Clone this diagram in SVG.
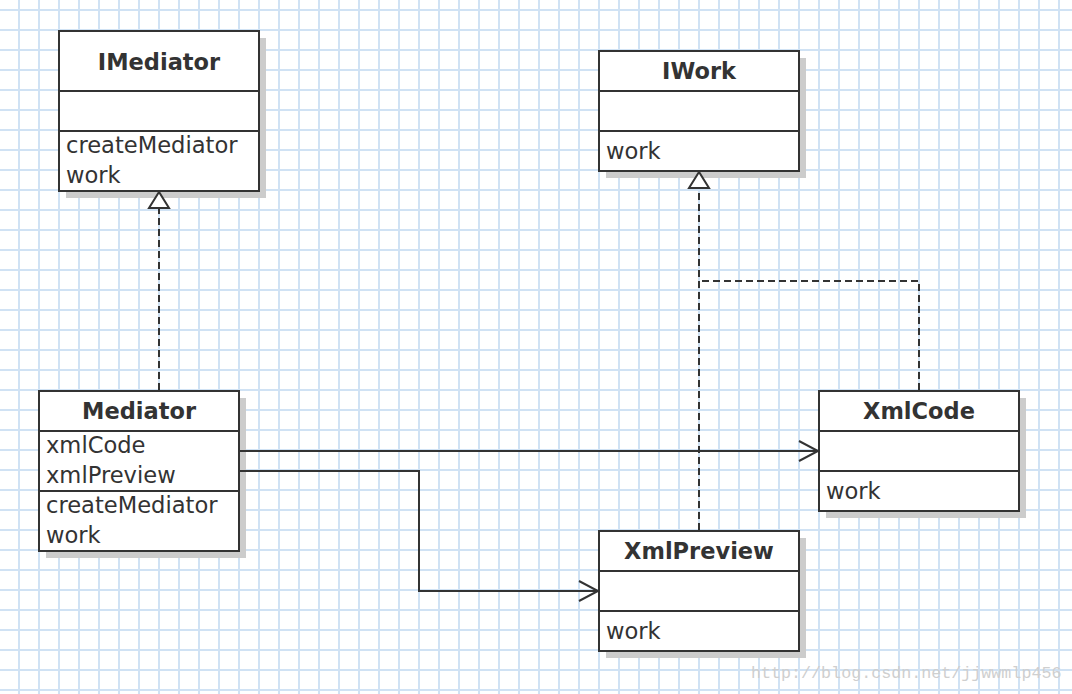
<svg xmlns="http://www.w3.org/2000/svg" width="1072" height="694" viewBox="0 0 1072 694">
<style>
.box{fill:#ffffff;stroke:#333333;stroke-width:2}
.shadow{fill:#cccccc}
.div{stroke:#333333;stroke-width:2}
.title{font-family:"DejaVu Sans",sans-serif;font-size:22.5px;font-weight:bold;fill:#333333;text-anchor:middle}
.item{font-family:"DejaVu Sans",sans-serif;font-size:22.6px;fill:#333333}
.line{fill:none;stroke:#333333;stroke-width:2}
.dash{fill:none;stroke:#333333;stroke-width:2;stroke-dasharray:7,4}
.tri{fill:#ffffff;stroke:#333333;stroke-width:2;stroke-linejoin:miter}
.wm{font-family:"Liberation Mono",monospace;font-size:16.7px;fill:#cfcfcf}
</style>
<defs>
<pattern id="grid" x="0" y="0" width="20" height="20" patternUnits="userSpaceOnUse">
<rect x="18" y="0" width="2" height="20" fill="#d0e2f4"/>
<rect x="0" y="9" width="20" height="2" fill="#d0e2f4"/>
</pattern>
<marker id="open" markerWidth="24" markerHeight="26" refX="21" refY="13" orient="auto" markerUnits="userSpaceOnUse">
<path d="M2,3 L21,13 L2,23" fill="none" stroke="#333333" stroke-width="2"/>
</marker>
</defs>
<rect width="1072" height="694" fill="#ffffff"/>
<rect width="1072" height="694" fill="url(#grid)"/>
<text class="wm" x="751" y="678">http://blog.csdn.net/jjwwmlp456</text>

<g id="IMediator">
<rect class="shadow" x="66" y="38" width="200" height="160"/>
<rect class="box" x="59" y="31" width="200" height="160"/>
<line class="div" x1="59" y1="91" x2="259" y2="91"/>
<line class="div" x1="59" y1="131" x2="259" y2="131"/>
<text class="title" x="159" y="70">IMediator</text>
<text class="item" x="66" y="153">createMediator</text>
<text class="item" x="66" y="183">work</text>
</g>

<g id="IWork">
<rect class="shadow" x="606" y="58" width="200" height="120"/>
<rect class="box" x="599" y="51" width="200" height="120"/>
<line class="div" x1="599" y1="91" x2="799" y2="91"/>
<line class="div" x1="599" y1="131" x2="799" y2="131"/>
<text class="title" x="699" y="79">IWork</text>
<text class="item" x="606" y="159">work</text>
</g>

<g id="Mediator">
<rect class="shadow" x="46" y="398" width="200" height="160"/>
<rect class="box" x="39" y="391" width="200" height="160"/>
<line class="div" x1="39" y1="431" x2="239" y2="431"/>
<line class="div" x1="39" y1="491" x2="239" y2="491"/>
<text class="title" x="139" y="419">Mediator</text>
<text class="item" x="46" y="453">xmlCode</text>
<text class="item" x="46" y="483">xmlPreview</text>
<text class="item" x="46" y="513">createMediator</text>
<text class="item" x="46" y="543">work</text>
</g>

<g id="XmlCode">
<rect class="shadow" x="826" y="398" width="200" height="120"/>
<rect class="box" x="819" y="391" width="200" height="120"/>
<line class="div" x1="819" y1="431" x2="1019" y2="431"/>
<line class="div" x1="819" y1="471" x2="1019" y2="471"/>
<text class="title" x="919" y="419">XmlCode</text>
<text class="item" x="826" y="499">work</text>
</g>

<g id="XmlPreview">
<rect class="shadow" x="606" y="538" width="200" height="120"/>
<rect class="box" x="599" y="531" width="200" height="120"/>
<line class="div" x1="599" y1="571" x2="799" y2="571"/>
<line class="div" x1="599" y1="611" x2="799" y2="611"/>
<text class="title" x="699" y="559">XmlPreview</text>
<text class="item" x="606" y="639">work</text>
</g>

<g id="connectors">
<path class="dash" d="M159,390 L159,208"/>
<polygon class="tri" points="159,192 149,208 169,208"/>
<path class="dash" d="M699,530 L699,188"/>
<polygon class="tri" points="699,172 689,188 709,188"/>
<path class="dash" d="M919,390 L919,281 L699,281"/>
<path class="line" d="M240,451 L818,451" marker-end="url(#open)"/>
<path class="line" d="M240,471 L419,471 L419,591 L598,591" marker-end="url(#open)"/>
</g>
</svg>
